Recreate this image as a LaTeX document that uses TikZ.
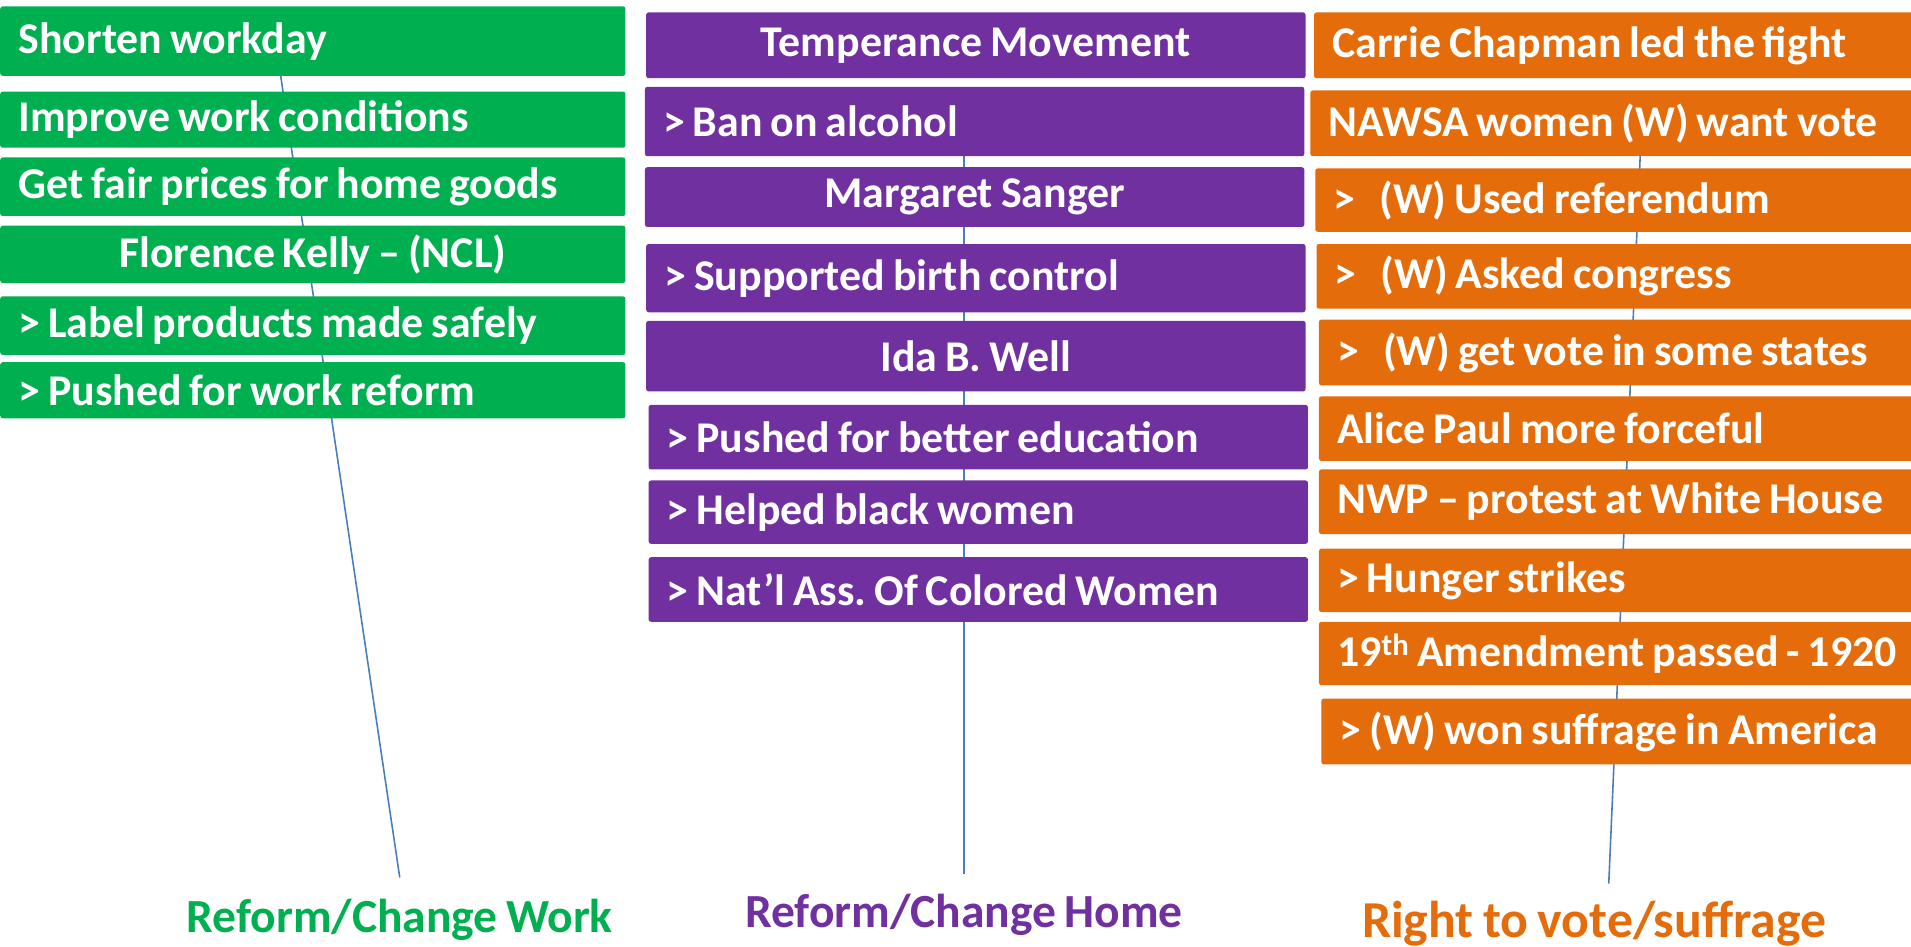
\documentclass[tikz,border=0pt]{standalone}
\usepackage{fontspec}
\setmainfont{Carlito}
\frenchspacing
\definecolor{workgreen}{HTML}{00B050}
\definecolor{homepurple}{HTML}{7030A0}
\definecolor{voteorange}{HTML}{E46C0A}
\definecolor{axisblue}{HTML}{4A7EBB}
% espacios entre palabras mas estrechos
\newcommand{\tightsp}{\spaceskip=0.18em\relax\xspaceskip=0.18em\relax}
\newcommand{\itemfont}{\bfseries\fontsize{36}{40}\selectfont}
\newcommand{\headfont}{\bfseries\fontsize{39}{44}\selectfont\tightsp}
\newcommand{\gap}{\hspace{0.55em}}
\tikzset{
  item/.style={fill=#1, text=white, font=\itemfont, rounded corners=2pt,
    anchor=north west, inner xsep=15pt, inner ysep=0pt,
    execute at begin node=\tightsp},
  witem/.style={item=workgreen, text width=483pt},
  hitem/.style={item=homepurple, text width=511pt},
  vitem/.style={item=voteorange, text width=520pt},
  head/.style={font=\headfont, anchor=base, inner sep=0pt},
  axis/.style={axisblue, line width=1.3pt}
}
\begin{document}
\begin{tikzpicture}[x=1pt, y=-1pt]
    \useasboundingbox (0,0) rectangle (1568,777);

    % Titulos de las columnas
    \node[head, text=workgreen] (workhead) at (328,765) {Reform/Change Work};
    \node[head, text=homepurple] (homehead) at (791,761) {Reform/Change Home};
    \node[head, text=voteorange, font=\bfseries\fontsize{42.5}{46}\selectfont\tightsp] (votehead) at (1308,769) {Right to vote/suffrage};

    % Lineas detras de las cajas
    \coordinate (worktop) at (227,40);
    \coordinate (workend) at (328,720);
    \coordinate (hometop) at (791,100);
    \coordinate (homeend) at (791,717);
    \coordinate (votetop) at (1347,100);
    \coordinate (voteend) at (1320,725);
    \draw[axis] (worktop) -- (workend);
    \draw[axis] (hometop) -- (homeend);
    \draw[axis] (votetop) -- (voteend);

    % Columna verde: trabajo
    \node[witem, minimum height=57pt, align=left] (w1) at (0,5) {Shorten workday};
    \node[witem, minimum height=46pt, align=left] (w2) at (0,75) {Improve work conditions};
    \node[witem, minimum height=48pt, align=left] (w3) at (0,129) {Get fair prices for home goods};
    \node[witem, minimum height=47pt, align=center] (w4) at (0,185) {Florence Kelly -- (NCL)};
    \node[witem, minimum height=48pt, align=left] (w5) at (0,243) {> Label products made safely};
    \node[witem, minimum height=46pt, align=left] (w6) at (0,297) {> Pushed for work reform};

    % Columna morada: hogar
    \node[hitem, minimum height=54pt, align=center] (h1) at (530,10) {Temperance Movement};
    \node[hitem, minimum height=57pt, align=left] (h2) at (529,71) {> Ban on alcohol};
    \node[hitem, minimum height=49pt, align=center] (h3) at (529,137) {Margaret Sanger};
    \node[hitem, minimum height=56pt, align=left] (h4) at (530,200) {> Supported birth control};
    \node[hitem, minimum height=58pt, align=center] (h5) at (530,263) {Ida B. Well};
    \node[hitem, minimum height=53pt, align=left] (h6) at (532,332) {> Pushed for better education};
    \node[hitem, minimum height=52pt, align=left] (h7) at (532,394) {> Helped black women};
    \node[hitem, minimum height=53pt, align=left] (h8) at (532,457) {> Nat'l Ass. Of Colored Women};

    % Columna naranja: voto
    \node[vitem, minimum height=54pt, align=left] (v1) at (1078,10) {Carrie Chapman led the fight};
    \node[vitem, minimum height=54pt, align=left] (v2) at (1075,74) {NAWSA women (W) want vote};
    \node[vitem, minimum height=52pt, align=left] (v3) at (1079,138) {>\gap(W) Used referendum};
    \node[vitem, minimum height=53pt, align=left] (v4) at (1080,200) {>\gap(W) Asked congress};
    \node[vitem, minimum height=54pt, align=left] (v5) at (1082,262) {>\gap(W) get vote in some states};
    \node[vitem, minimum height=53pt, align=left] (v6) at (1082,325) {Alice Paul more forceful};
    \node[vitem, minimum height=53pt, align=left] (v7) at (1082,385) {NWP -- protest at White House};
    \node[vitem, minimum height=52pt, align=left] (v8) at (1082,450) {> Hunger strikes};
    \node[vitem, minimum height=52pt, align=left] (v9) at (1082,510) {19\textsuperscript{th} Amendment passed - 1920};
    \node[vitem, minimum height=54pt, align=left] (v10) at (1084,573) {> (W) won suffrage in America};

  \end{tikzpicture}
\end{document}
